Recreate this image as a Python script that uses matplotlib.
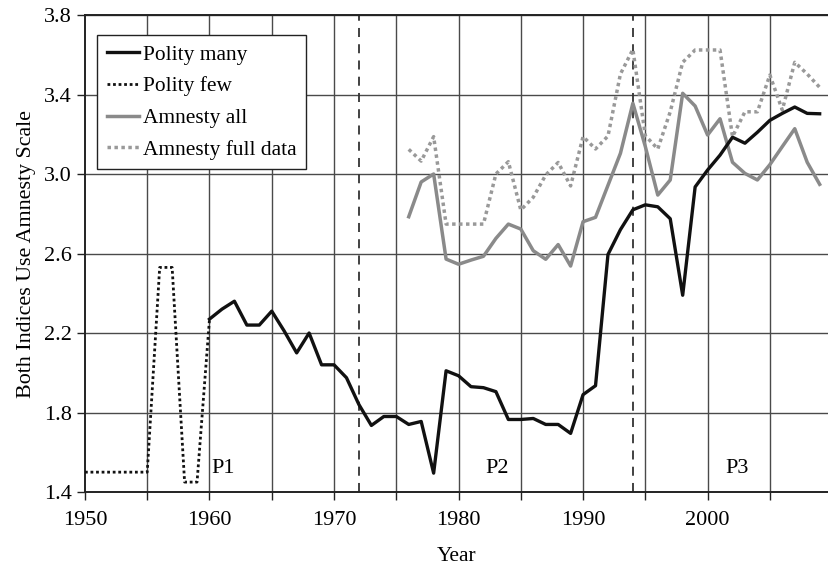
from matplotlib import pyplot as plt
import numpy as np

plt.rcParams['font.family'] = ['Liberation Serif', 'DejaVu Serif']

# data
few_years = list(range(1950, 1961))
polity_few = [1.5, 1.5, 1.5, 1.5, 1.5, 1.5, 2.53, 2.53, 1.45, 1.45, 2.27]

many_years = list(range(1960, 2010))
polity_many = [2.27, 2.32, 2.36, 2.24, 2.24, 2.31, 2.21, 2.10, 2.20, 2.04,
               2.04, 1.975, 1.84, 1.735, 1.78, 1.78, 1.74, 1.755, 1.495, 2.01,
               1.985, 1.93, 1.925, 1.905, 1.765, 1.765, 1.77, 1.74, 1.74, 1.695,
               1.89, 1.935, 2.595, 2.72, 2.82, 2.845, 2.835, 2.775, 2.39, 2.935,
               3.02, 3.095, 3.185, 3.155, 3.21, 3.27, 3.305, 3.337, 3.305, 3.303]

amn_years = list(range(1976, 2010))
amnesty_all = [2.785, 2.96, 3.0, 2.572, 2.546, 2.567, 2.586, 2.676, 2.748, 2.723,
               2.614, 2.571, 2.645, 2.537, 2.76, 2.782, 2.943, 3.104, 3.356, 3.138,
               2.894, 2.97, 3.406, 3.342, 3.196, 3.278, 3.059, 3.003, 2.97, 3.047,
               3.138, 3.228, 3.059, 2.948]
amnesty_full = [3.124, 3.065, 3.188, 2.748, 2.748, 2.748, 2.748, 3.0, 3.062, 2.819,
                2.883, 2.995, 3.058, 2.94, 3.188, 3.126, 3.191, 3.503, 3.627, 3.193,
                3.126, 3.313, 3.562, 3.624, 3.624, 3.624, 3.188, 3.313, 3.313, 3.498,
                3.322, 3.562, 3.503, 3.436]

period_breaks = [1972, 1994]
period_labels = ['P1', 'P2', 'P3']
period_label_x = [1961.1, 1983.1, 2002.4]

fig = plt.figure(figsize=(8.29, 5.66), dpi=100)
ax = fig.add_axes([0.1025, 0.1307, 0.8975, 0.8428])

# grid
for yr in range(1955, 2010, 5):
    ax.axvline(yr, color='#4a4a4a', lw=1.0, zorder=1)
for v in np.arange(1.8, 3.81, 0.4):
    ax.axhline(v, color='#4a4a4a', lw=1.0, zorder=1)

# periods
for b in period_breaks:
    ax.axvline(b, color='#333333', lw=1.3, ls=(0, (5, 4)), zorder=2)
for lx, lab in zip(period_label_x, period_labels):
    ax.text(lx, 1.52, lab, ha='center', va='center', fontsize=16)

# series
ax.plot(many_years, polity_many, color='#111111', lw=2.4, label='Polity many', zorder=4)
ax.plot(few_years, polity_few, color='#111111', lw=2.0, ls=(0, (1, 1)), label='Polity few', zorder=4)
ax.plot(amn_years, amnesty_all, color='#8a8a8a', lw=2.5, label='Amnesty all', zorder=3)
ax.plot(amn_years, amnesty_full, color='#999999', lw=2.5, ls=(0, (1, 1)), label='Amnesty full data', zorder=3)

ax.set_xlim(1950, 2009.75)
ax.set_ylim(1.4, 3.8)
ax.set_xticks(range(1950, 2010, 5))
ax.set_xticklabels([str(y) if y % 10 == 0 else '' for y in range(1950, 2010, 5)])
ax.set_yticks(np.arange(1.4, 3.81, 0.4))
ax.set_yticklabels(['%.1f' % v for v in np.arange(1.4, 3.81, 0.4)])
ax.tick_params(axis='both', direction='out', length=6, width=1, labelsize=16, color='#222222')
ax.tick_params(axis='x', pad=8)

ax.spines['right'].set_visible(False)
for s in ['left', 'bottom', 'top']:
    ax.spines[s].set_linewidth(1.4)
    ax.spines[s].set_color('#222222')

ax.set_xlabel('Year', fontsize=15.5, labelpad=12)
ax.set_ylabel('Both Indices Use Amnesty Scale', fontsize=15.8, labelpad=6)

legend = ax.legend(loc='upper left', bbox_to_anchor=(0.016, 0.958), borderaxespad=0,
                   fontsize=15.4, fancybox=False, edgecolor='#222222', framealpha=1,
                   handlelength=1.5, handletextpad=0.2, labelspacing=0.55,
                   borderpad=0.45)
legend.get_frame().set_linewidth(1.0)

plt.savefig('out.png', dpi=100)
